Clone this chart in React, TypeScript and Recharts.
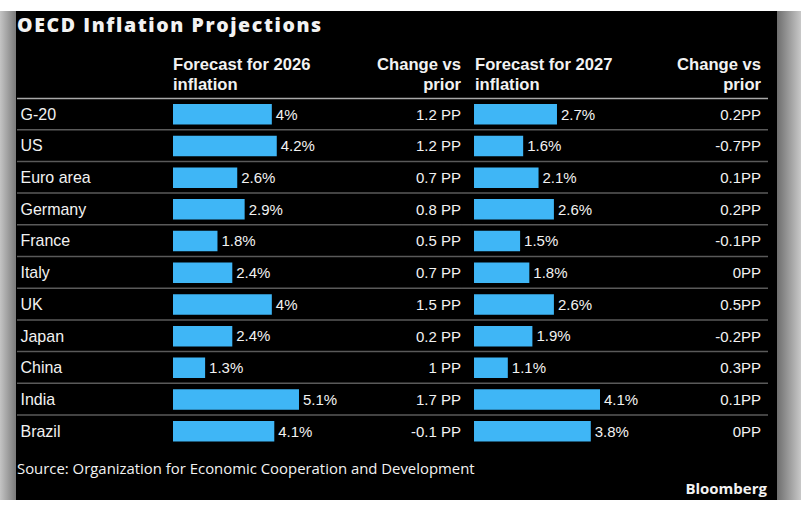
import React from "react";
import { BarChart, Bar, XAxis, YAxis, LabelList } from "recharts";

const countries = ["G-20", "US", "Euro area", "Germany", "France", "Italy", "UK", "Japan", "China", "India", "Brazil"];
const forecast2026 = [4, 4.2, 2.6, 2.9, 1.8, 2.4, 4, 2.4, 1.3, 5.1, 4.1];
const change2026 = [1.2, 1.2, 0.7, 0.8, 0.5, 0.7, 1.5, 0.2, 1, 1.7, -0.1];
const forecast2027 = [2.7, 1.6, 2.1, 2.6, 1.5, 1.8, 2.6, 1.9, 1.1, 4.1, 3.8];
const change2027 = [0.2, -0.7, 0.1, 0.2, -0.1, 0, 0.5, -0.2, 0.3, 0.1, 0];

const data = countries.map((name, i) => ({
  name,
  f26: forecast2026[i],
  c26: `${change2026[i]} PP`,
  f27: forecast2027[i],
  c27: `${change2027[i]}PP`,
}));

const BLUE = "#3fb6f6";
const TEXT = "#f2f2f2";
const SANS = "'Liberation Sans', Arial, Helvetica, sans-serif";
const OPEN = "'Open Sans', 'Noto Sans', sans-serif";

const CHART_TOP = 97.6;
const ROW_H = 31.7;
const CHART_H = ROW_H * countries.length;
const BAR_W = 126; // pixel length of the longest bar in each column

// chart A spans page x 16..462, chart B 462..778
const A_LEFT = 16;
const A_W = 446;
const A_AXIS = 157;
const B_LEFT = 462;
const B_W = 316;
const B_AXIS = 12;

const max26 = Math.max(...forecast2026);
const max27 = Math.max(...forecast2027);

type TickProps = { x?: number; y?: number; payload?: { value?: string } };

const rowIndex = (v?: string) => countries.indexOf(String(v ?? ""));

const CountryTick = ({ y = 0, payload }: TickProps) => {
  const i = rowIndex(payload?.value);
  return (
    <g>
      {i > 0 && (
        <line x1={1} x2={A_W} y1={y - ROW_H / 2} y2={y - ROW_H / 2} stroke="#5a5a5a" strokeWidth={1.5} />
      )}
      <text x={4.5} y={y} dy="0.36em" fill={TEXT} fontSize={16} fontFamily={SANS}>
        {payload?.value}
      </text>
    </g>
  );
};

const LineTick = ({ y = 0, payload }: TickProps) => {
  const i = rowIndex(payload?.value);
  if (i <= 0) return <g />;
  return <line x1={0} x2={306} y1={y - ROW_H / 2} y2={y - ROW_H / 2} stroke="#5a5a5a" strokeWidth={1.5} />;
};

type LabelProps = { y?: number | string; height?: number | string; value?: string | number };

const changeLabel = (xRight: number) => (p: LabelProps) => {
  const y = Number(p.y ?? 0) + Number(p.height ?? 0) / 2;
  return (
    <text x={xRight} y={y} dy="0.36em" textAnchor="end" fill={TEXT} fontSize={15} fontFamily={SANS}>
      {p.value}
    </text>
  );
};

const abs = (left: number, top: number): React.CSSProperties => ({ position: "absolute", left, top });

const HeaderText = ({ x, y, anchor, lines }: { x: number; y: number; anchor: "start" | "end"; lines: string[] }) => (
  <>
    {lines.map((l, i) => (
      <text key={i} x={x} y={y + i * 20} textAnchor={anchor} fill={TEXT} fontSize={16.6} fontWeight={700} fontFamily={SANS}>
        {l}
      </text>
    ))}
  </>
);

export default function App() {
  return (
    <div style={{ position: "absolute", left: 0, top: 0, width: 801, height: 505, background: "#fff", overflow: "hidden" }}>
      <div style={{ ...abs(0, 11), width: 16, height: 489, background: "linear-gradient(to right, #c4c4c4, #7a7a7a)" }} />
      <div style={{ ...abs(777, 11), width: 24, height: 489, background: "linear-gradient(to right, #6e6e6e, #c8c8c8)" }} />
      <div style={{ ...abs(16, 11), width: 761, height: 489, background: "#000" }} />

      <svg width={801} height={505} style={abs(0, 0)}>
        <text x={17} y={31.5} fill={TEXT} fontSize={19.5} fontWeight={800} letterSpacing={1.6} fontFamily={OPEN}>
          OECD Inflation Projections
        </text>
        <HeaderText x={173} y={69.5} anchor="start" lines={["Forecast for 2026", "inflation"]} />
        <HeaderText x={461} y={69.5} anchor="end" lines={["Change vs", "prior"]} />
        <HeaderText x={475} y={69.5} anchor="start" lines={["Forecast for 2027", "inflation"]} />
        <HeaderText x={761} y={69.5} anchor="end" lines={["Change vs", "prior"]} />
        <line x1={17} x2={768} y1={98.5} y2={98.5} stroke="#a8a8a8" strokeWidth={1.5} />
        <text x={17} y={474} fill={TEXT} fontSize={14.9} fontFamily={OPEN}>
          Source: Organization for Economic Cooperation and Development
        </text>
        <text x={767} y={494} textAnchor="end" fill={TEXT} fontSize={15} fontWeight={700} fontFamily={OPEN}>
          Bloomberg
        </text>
      </svg>

      <div style={abs(A_LEFT, CHART_TOP)}>
        <BarChart
          width={A_W}
          height={CHART_H}
          data={data}
          layout="vertical"
          margin={{ top: 0, right: A_W - A_AXIS - BAR_W, bottom: 0, left: 0 }}
        >
          <XAxis type="number" hide domain={[0, max26]} allowDataOverflow />
          <YAxis type="category" dataKey="name" width={A_AXIS} axisLine={false} tickLine={false} tick={CountryTick} interval={0} />
          <Bar dataKey="f26" fill={BLUE} barSize={20.5} isAnimationActive={false}>
            <LabelList
              dataKey="f26"
              position="right"
              offset={4}
              formatter={(v: number) => `${v}%`}
              fill={TEXT}
              fontSize={15}
              fontFamily={SANS}
            />
            <LabelList dataKey="c26" content={changeLabel(A_W - 1)} />
          </Bar>
        </BarChart>
      </div>

      <div style={abs(B_LEFT, CHART_TOP)}>
        <BarChart
          width={B_W}
          height={CHART_H}
          data={data}
          layout="vertical"
          margin={{ top: 0, right: B_W - B_AXIS - BAR_W, bottom: 0, left: 0 }}
        >
          <XAxis type="number" hide domain={[0, max27]} allowDataOverflow />
          <YAxis type="category" dataKey="name" width={B_AXIS} axisLine={false} tickLine={false} tick={LineTick} interval={0} />
          <Bar dataKey="f27" fill={BLUE} barSize={20.5} isAnimationActive={false}>
            <LabelList
              dataKey="f27"
              position="right"
              offset={4}
              formatter={(v: number) => `${v}%`}
              fill={TEXT}
              fontSize={15}
              fontFamily={SANS}
            />
            <LabelList dataKey="c27" content={changeLabel(299)} />
          </Bar>
        </BarChart>
      </div>
    </div>
  );
}
